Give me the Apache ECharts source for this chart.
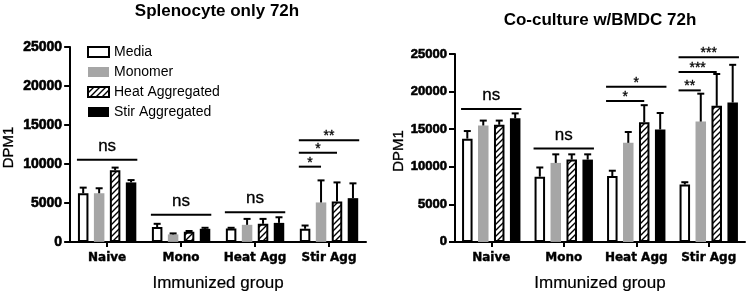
<!DOCTYPE html>
<html>
<head>
<meta charset="utf-8">
<script src="https://cdn.jsdelivr.net/npm/echarts@6/dist/echarts.min.js"></script>
<style>
  html, body { margin: 0; padding: 0; background: #ffffff; }
  #chart { width: 750px; height: 297px; }
</style>
</head>
<body>
<div id="chart"></div>
<script>
// ---------------- data ----------------
const categories = ['Naive', 'Mono', 'Heat Agg', 'Stir Agg'];
const seriesNames = ['Media', 'Monomer', 'Heat Aggregated', 'Stir Aggregated'];
const yTicks = [0, 5000, 10000, 15000, 20000, 25000];

// Splenocyte only 72h (mean, error)
const splMedia = [6240, 1900, 1730, 1680];
const splMediaErr = [720, 420, 80, 420];
const splMonomer = [6240, 960, 2190, 5060];
const splMonomerErr = [640, 130, 760, 2830];
const splHeat = [9190, 1300, 2320, 5190];
const splHeatErr = [340, 100, 630, 2440];
const splStir = [7630, 1680, 2440, 5610];
const splStirErr = [300, 130, 720, 1900];

// Co-culture w/BMDC 72h (mean, error)
const cocMedia = [13740, 8680, 8770, 7630];
const cocMediaErr = [1010, 1220, 700, 310];
const cocMonomer = [15490, 10510, 13180, 16010];
const cocMonomerErr = [650, 1140, 1440, 3710];
const cocHeat = [15580, 10950, 15930, 18100];
const cocHeatErr = [560, 700, 2260, 4240];
const cocStir = [16450, 10950, 14960, 18540];
const cocStirErr = [650, 700, 2190, 5020];

// significance brackets: [group, fromBar, toBar, bracket level (DPM), label]
const splSig = [
  [0, 0, 3, 10540, 'ns'],
  [1, 0, 3, 3490, 'ns'],
  [2, 0, 3, 3800, 'ns'],
  [3, 0, 3, 13040, '**'],
  [3, 0, 2, 11430, '*'],
  [3, 0, 1, 9650, '*']
];
const cocSig = [
  [0, 0, 3, 17670, 'ns'],
  [1, 0, 3, 12430, 'ns'],
  [2, 0, 2, 18760, '*'],
  [2, 0, 3, 20640, '*'],
  [3, 0, 1, 20160, '**'],
  [3, 0, 2, 22600, '***'],
  [3, 0, 3, 24570, '***']
];

// ---------------- styling ----------------
const BAR_W = 10.5;
const BAR_GAP = 0.52;
const PITCH = BAR_W * (1 + BAR_GAP);

function hatchCanvas() {
  const c = document.createElement('canvas');
  c.width = 6; c.height = 6;
  const g = c.getContext('2d');
  g.fillStyle = '#ffffff';
  g.fillRect(0, 0, 6, 6);
  g.strokeStyle = '#000000';
  g.lineWidth = 1.4;
  g.beginPath();
  g.moveTo(-1, 7); g.lineTo(7, -1);
  g.moveTo(-4, 4); g.lineTo(4, -4);
  g.moveTo(2, 10); g.lineTo(10, 2);
  g.stroke();
  return c;
}
const hatch = { image: hatchCanvas(), repeat: 'repeat' };

const barStyles = [
  { color: '#ffffff', borderColor: '#000000', borderWidth: 2 },
  { color: '#a6a6a6', borderWidth: 0 },
  { color: hatch, borderColor: '#000000', borderWidth: 2 },
  { color: '#000000', borderWidth: 0 }
];

const F_SANS = "'Liberation Sans', Arial, sans-serif";
const F_LAB = "'DejaVu Sans', sans-serif";

function xAxisCfg(gridIndex) {
  return {
    type: 'category', gridIndex: gridIndex, data: categories,
    axisLine: { lineStyle: { color: '#000', width: 2 } },
    axisTick: { show: true, alignWithLabel: true, length: 5, lineStyle: { color: '#000', width: 2 } },
    axisLabel: { color: '#000', fontFamily: F_LAB, fontWeight: 'bold', fontSize: 12, margin: 10, interval: 0,
      textBorderColor: '#000', textBorderWidth: 0.4 },
    name: 'Immunized group', nameLocation: 'middle', nameGap: 33,
    nameTextStyle: { color: '#000', fontFamily: F_SANS, fontSize: 17, textBorderColor: '#000', textBorderWidth: 0.2 }
  };
}
function yAxisCfg(gridIndex, fontSize, nameGap) {
  return {
    type: 'value', gridIndex: gridIndex, min: 0, max: 25000, interval: 5000,
    splitLine: { show: false },
    axisLine: { show: true, lineStyle: { color: '#000', width: 2 } },
    axisTick: { show: true, length: 6, lineStyle: { color: '#000', width: 2 } },
    axisLabel: { color: '#000', fontFamily: F_SANS, fontWeight: 'bold', fontSize: fontSize, margin: 8,
      textBorderColor: '#000', textBorderWidth: 0.6,
      formatter: v => (yTicks.indexOf(v) >= 0 ? String(v) : '') },
    name: 'DPM1', nameLocation: 'middle', nameRotate: 90, nameGap: nameGap,
    nameTextStyle: { color: '#000', fontFamily: F_SANS, fontSize: 15, padding: [0, 6, 0, 0],
      textBorderColor: '#000', textBorderWidth: 0.3 }
  };
}

function barSeries(axisIndex, idx, values) {
  return {
    type: 'bar', name: seriesNames[idx], xAxisIndex: axisIndex, yAxisIndex: axisIndex,
    data: values, barWidth: BAR_W, barGap: (BAR_GAP * 100) + '%',
    itemStyle: barStyles[idx], z: 2, silent: true
  };
}

function errSeries(axisIndex, idx, values, errs) {
  return {
    type: 'custom', xAxisIndex: axisIndex, yAxisIndex: axisIndex, z: 3, silent: true,
    data: values.map((v, i) => [i, v, errs[i]]),
    encode: { x: 0, y: 1 },
    renderItem: function (params, api) {
      const cat = api.value(0), v = api.value(1), e = api.value(2);
      const p0 = api.coord([cat, v]);
      const p1 = api.coord([cat, v + e]);
      const x = p0[0] + (idx - 1.5) * PITCH;
      const st = { stroke: '#000', lineWidth: 2 };
      return {
        type: 'group', children: [
          { type: 'line', shape: { x1: x, y1: p0[1], x2: x, y2: p1[1] }, style: st },
          { type: 'line', shape: { x1: x - 3.5, y1: p1[1], x2: x + 3.5, y2: p1[1] }, style: st }
        ]
      };
    }
  };
}

function sigSeries(axisIndex, sig) {
  return {
    type: 'custom', xAxisIndex: axisIndex, yAxisIndex: axisIndex, z: 4, silent: true,
    data: sig.map(s => [s[0], s[3]]),
    encode: { x: 0, y: 1 },
    renderItem: function (params, api) {
      const s = sig[params.dataIndex];
      const p = api.coord([s[0], s[3]]);
      const x1 = p[0] + (s[1] - 1.5) * PITCH - BAR_W / 2 - 1;
      const x2 = s[2] === 3 ? p[0] + (s[2] - 1.5) * PITCH + BAR_W / 2 + 1 : p[0] + (s[2] - 1.5) * PITCH;
      const isNs = s[4] === 'ns';
      return {
        type: 'group', children: [
          { type: 'line', shape: { x1: x1, y1: p[1], x2: x2, y2: p[1] }, style: { stroke: '#000', lineWidth: 2 } },
          { type: 'text', x: (x1 + x2) / 2, y: isNs ? p[1] - 5 : p[1] + 3,
            style: { text: s[4], fill: '#000', align: 'center', verticalAlign: 'bottom',
              stroke: '#000', lineWidth: 0.3,
              font: isNs ? ('17px ' + F_SANS) : ('14px ' + F_SANS) } }
        ]
      };
    }
  };
}

const chart = echarts.init(document.getElementById('chart'), null, { renderer: 'canvas' });

const series = [];
const splVals = [splMedia, splMonomer, splHeat, splStir];
const splErrs = [splMediaErr, splMonomerErr, splHeatErr, splStirErr];
const cocVals = [cocMedia, cocMonomer, cocHeat, cocStir];
const cocErrs = [cocMediaErr, cocMonomerErr, cocHeatErr, cocStirErr];
for (let i = 0; i < 4; i++) series.push(barSeries(0, i, splVals[i]));
for (let i = 0; i < 4; i++) series.push(barSeries(1, i, cocVals[i]));
for (let i = 0; i < 4; i++) series.push(errSeries(0, i, splVals[i], splErrs[i]));
for (let i = 0; i < 4; i++) series.push(errSeries(1, i, cocVals[i], cocErrs[i]));
series.push(sigSeries(0, splSig));
series.push(sigSeries(1, cocSig));

chart.setOption({
  animation: false,
  backgroundColor: '#ffffff',
  title: [
    { text: 'Splenocyte only 72h', left: 217, top: 3, textAlign: 'center', padding: 0,
      textStyle: { color: '#000', fontFamily: F_SANS, fontWeight: 'bold', fontSize: 17 } },
    { text: 'Co-culture w/BMDC 72h', left: 600, top: 12, textAlign: 'center', padding: 0,
      textStyle: { color: '#000', fontFamily: F_SANS, fontWeight: 'bold', fontSize: 17 } }
  ],
  legend: {
    data: seriesNames, orient: 'vertical', left: 87, top: 45, padding: 0,
    icon: 'rect', itemWidth: 21, itemHeight: 10, itemGap: 6, itemTextGap: 9,
    selectedMode: false,
    textStyle: { color: '#000', fontFamily: F_SANS, fontSize: 14, lineHeight: 14 }
  },
  grid: [
    { left: 69, top: 47, width: 297, height: 197 },
    { left: 455, top: 54, width: 290, height: 191 }
  ],
  xAxis: [xAxisCfg(0), xAxisCfg(1)],
  yAxis: [yAxisCfg(0, 14, 54), yAxisCfg(1, 13, 43)],
  series: series
});
</script>
</body>
</html>
